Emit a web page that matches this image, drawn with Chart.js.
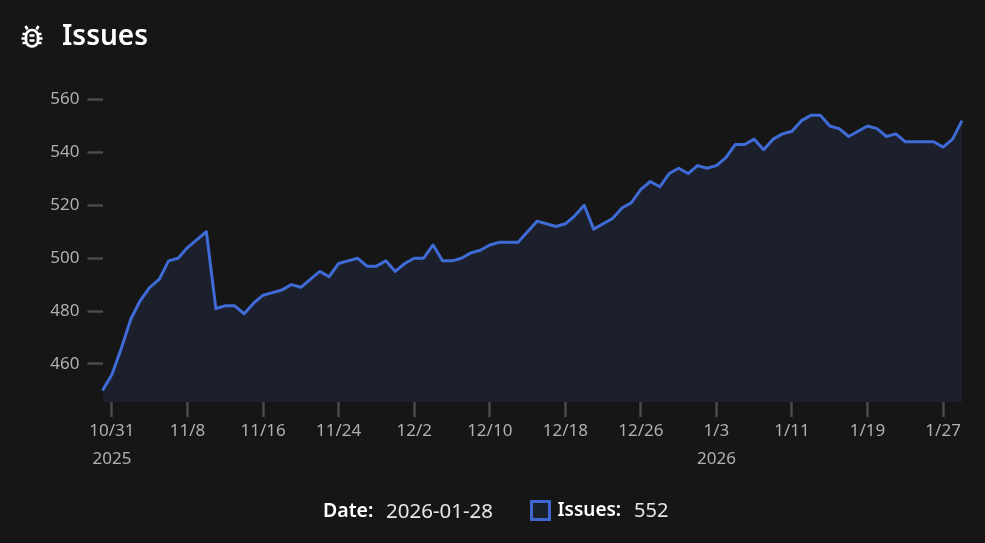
<!DOCTYPE html>
<html>
<head>
<meta charset="utf-8">
<script src="https://cdn.jsdelivr.net/npm/chart.js@4"></script>
<style>
html,body{margin:0;padding:0;background:#161616;width:985px;height:543px;overflow:hidden;font-family:"Noto Sans",sans-serif}
#wrap{position:relative;width:985px;height:543px}
canvas{position:absolute;left:0;top:0}
.t{position:absolute;white-space:nowrap;color:#fff;line-height:1}
.b{font-weight:600}
.v{color:#e6e6e6;font-size:20px}
</style>
</head>
<body>
<div id="wrap">
<canvas id="c" width="985" height="543"></canvas>
<svg style="position:absolute;left:20px;top:25px" width="24" height="24" viewBox="0 0 24 24" fill="none" stroke="#fff" stroke-width="2.7" stroke-linecap="butt">
<rect x="6" y="5" width="12" height="16.5" rx="6"/>
<path d="M9.5 10.5h5M9.5 15.5h5M7.5 4.5 5.5 1M16.5 4.5l2-3.500M6 9H2.500M6 13.500H1.500M6 18H2.500M18 9h3.500M18 13.500h4.500M18 18h3.500"/>
</svg>
<div class="t b" id="title" style="left:62px;top:20px;font-size:28px">Issues</div>
<div class="t b" style="left:323px;top:500px;font-size:19.500px">Date:</div>
<div class="t v" style="left:386px;top:500px;font-size:20.500px">2026-01-28</div>
<div style="position:absolute;left:530px;top:500px;width:15px;height:15px;border:3px solid #3f65cf;background:#1b202d"></div>
<div class="t b" style="left:557.500px;top:500px;font-size:19px">Issues:</div>
<div class="t v" style="left:634px;top:500px">552</div>
</div>
<script>
const dates = ["10/30","10/31","11/1","11/2","11/3","11/4","11/5","11/6","11/7","11/8","11/9","11/10","11/11","11/12","11/13","11/14","11/15","11/16","11/17","11/18","11/19","11/20","11/21","11/22","11/23","11/24","11/25","11/26","11/27","11/28","11/29","11/30","12/1","12/2","12/3","12/4","12/5","12/6","12/7","12/8","12/9","12/10","12/11","12/12","12/13","12/14","12/15","12/16","12/17","12/18","12/19","12/20","12/21","12/22","12/23","12/24","12/25","12/26","12/27","12/28","12/29","12/30","12/31","1/1","1/2","1/3","1/4","1/5","1/6","1/7","1/8","1/9","1/10","1/11","1/12","1/13","1/14","1/15","1/16","1/17","1/18","1/19","1/20","1/21","1/22","1/23","1/24","1/25","1/26","1/27","1/28","1/28"];
const issues = [450,456,466,477,484,489,492,499,500,504,507,510,481,482,482,479,483,486,487,488,490,489,492,495,493,498,499,500,497,497,499,495,498,500,500,505,499,499,500,502,503,505,506,506,506,510,514,513,512,513,516,520,511,513,515,519,521,526,529,527,532,534,532,535,534,535,538,543,543,545,541,545,547,548,552,554,554,550,549,546,548,550,549,546,547,544,544,544,544,542,545,552];
const tickDates = ["10/31","11/8","11/16","11/24","12/2","12/10","12/18","12/26","1/3","1/11","1/19","1/27"];
const yearLabels = {"10/31":"2025","1/3":"2026"};
const yTicks = [460,480,500,520,540,560];
const fontFamily = '"Noto Sans", sans-serif';
const tickColor = '#b0b0b0', markColor = '#4a4a4a';

new Chart(document.getElementById('c'), {
  type: 'line',
  data: {
    labels: dates,
    datasets: [{
      label: 'Issues',
      data: issues,
      borderColor: '#3f6bd6',
      borderWidth: 3,
      backgroundColor: '#1b202c',
      fill: 'start',
      pointRadius: 0,
      tension: 0,
      borderJoinStyle: 'round'
    }]
  },
  options: {
    responsive: false,
    animation: false,
    layout: {padding: {top: 80, right: 23, bottom: 60, left: 0}},
    plugins: {legend: {display: false}, tooltip: {enabled: false}, title: {display: false}},
    scales: {
      x: {
        type: 'category',
        offset: false,
        border: {display: false},
        grid: {drawOnChartArea: false, drawTicks: true, tickLength: 15, tickWidth: 2.5, tickColor: markColor},
        afterBuildTicks(s) { s.ticks = s.ticks.filter(t => tickDates.includes(dates[t.value]) && t.value < 90); },
        afterFit(s) { s.height = 81; },
        ticks: {
          autoSkip: false, maxRotation: 0, minRotation: 0, color: tickColor, padding: 1,
          font: {family: fontFamily, size: 17, lineHeight: 1.6},
          callback(v) { const d = dates[v]; return yearLabels[d] ? [d, yearLabels[d]] : d; }
        }
      },
      y: {
        min: 445.63, max: 567.37,
        border: {display: false},
        grid: {drawOnChartArea: false, drawTicks: true, tickLength: 15, tickWidth: 2.5, tickColor: markColor},
        afterBuildTicks(s) { s.ticks = yTicks.map(v => ({value: v})); },
        afterFit(s) { s.width = 102.5; },
        ticks: {color: tickColor, padding: 8, font: {family: fontFamily, size: 17}, callback: v => String(v)}
      }
    }
  }
});
</script>
</body>
</html>
